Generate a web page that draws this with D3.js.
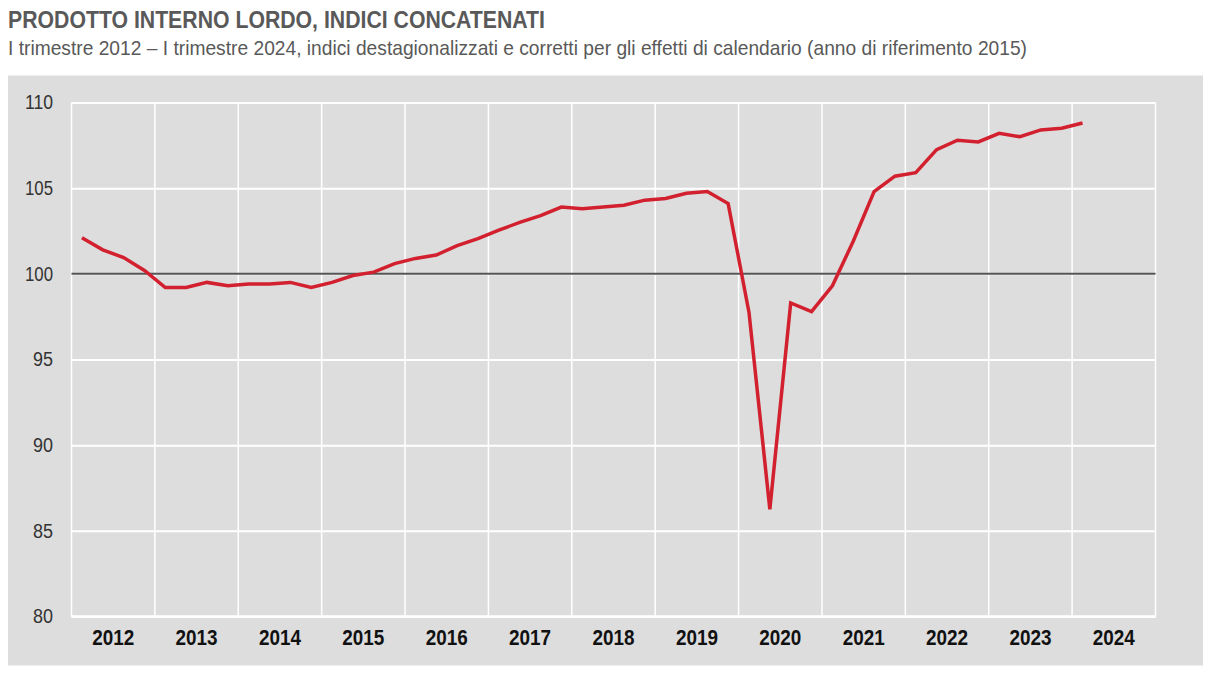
<!DOCTYPE html>
<html><head><meta charset="utf-8">
<script src="https://cdn.jsdelivr.net/npm/d3@7"></script>
<style>
html,body{margin:0;padding:0;background:#fff;}
svg{display:block;}
text{font-family:"Liberation Sans Narrow","Arial Narrow","Liberation Sans",sans-serif;}
</style></head>
<body>
<svg id="chart" width="1210" height="675"></svg>
<script>
const titleText = "PRODOTTO INTERNO LORDO, INDICI CONCATENATI";
const subtitleText = "I trimestre 2012 – I trimestre 2024, indici destagionalizzati e corretti per gli effetti di calendario (anno di riferimento 2015)";
const years = [2012,2013,2014,2015,2016,2017,2018,2019,2020,2021,2022,2023,2024];
const yTicks = [80,85,90,95,100,105,110];
// quarterly values, I 2012 .. I 2024
const quarters = [
  "2012-1","2012-2","2012-3","2012-4",
  "2013-1","2013-2","2013-3","2013-4",
  "2014-1","2014-2","2014-3","2014-4",
  "2015-1","2015-2","2015-3","2015-4",
  "2016-1","2016-2","2016-3","2016-4",
  "2017-1","2017-2","2017-3","2017-4",
  "2018-1","2018-2","2018-3","2018-4",
  "2019-1","2019-2","2019-3","2019-4",
  "2020-1","2020-2","2020-3","2020-4",
  "2021-1","2021-2","2021-3","2021-4",
  "2022-1","2022-2","2022-3","2022-4",
  "2023-1","2023-2","2023-3","2023-4",
  "2024-1"
];
const gdpIndex = [
  102.1,101.4,100.95,100.2,
  99.2,99.2,99.5,99.3,
  99.4,99.4,99.5,99.2,
  99.5,99.9,100.1,100.6,
  100.9,101.1,101.65,102.05,
  102.55,103.0,103.4,103.9,
  103.8,103.9,104.0,104.3,
  104.4,104.7,104.8,104.1,
  97.75,86.25,98.3,97.8,
  99.3,101.9,104.8,105.7,
  105.9,107.25,107.8,107.7,
  108.2,108.0,108.4,108.5,
  108.8
];

const svg = d3.select("#chart");
const panel = {x:8, y:75.5, w:1195, h:590};
const m = {left:71.5, right:1155.5, top:102.5, bottom:616.5};
const FF = "'Liberation Sans Narrow','Arial Narrow','Liberation Sans',sans-serif";

svg.append("text").attr("x",8).attr("y",28)
  .attr("font-size",24).attr("font-weight","bold").attr("fill","#595959")
  .attr("textLength",537).attr("lengthAdjust","spacingAndGlyphs")
  .text(titleText);
svg.append("text").attr("x",8).attr("y",55)
  .attr("font-size",21).attr("fill","#595959")
  .attr("textLength",1019).attr("lengthAdjust","spacingAndGlyphs")
  .text(subtitleText);

svg.append("rect").attr("x",panel.x).attr("y",panel.y).attr("width",panel.w).attr("height",panel.h)
  .attr("fill","#dddddd");

const x = d3.scaleBand().domain(years).range([m.left,m.right]).paddingInner(0).paddingOuter(0);
const y = d3.scaleLinear().domain([80,110]).range([m.bottom,m.top]);

const qx = (q) => {
  const [yr, qq] = q.split("-").map(Number);
  return x(yr) + x.bandwidth()*((qq-0.5)/4);
};

// horizontal gridlines
const gy = svg.append("g")
  .attr("transform",`translate(${m.left},0)`)
  .call(d3.axisLeft(y).tickValues(yTicks).tickSize(-(m.right-m.left)).tickPadding(18.5).tickFormat(d3.format("d")));
gy.select(".domain").remove();
gy.selectAll(".tick line").attr("stroke","#ffffff").attr("stroke-width",2);
gy.selectAll(".tick text").attr("font-size",20).attr("fill","#333")
  .attr("font-family",FF)
  .attr("textLength",d=>d>=100?28:20).attr("lengthAdjust","spacingAndGlyphs");

// vertical gridlines at year boundaries
const bounds = years.map(yr => x(yr)).concat([x(years[years.length-1]) + x.bandwidth()]);
svg.append("g").selectAll("line").data(bounds).join("line")
  .attr("x1",d=>d).attr("x2",d=>d).attr("y1",m.top).attr("y2",m.bottom)
  .attr("stroke","#ffffff").attr("stroke-width",1.5);

// bottom axis line
svg.append("line").attr("x1",m.left).attr("x2",m.right).attr("y1",y(80)).attr("y2",y(80))
  .attr("stroke","#fff").attr("stroke-width",2.5);

// x labels
const gx = svg.append("g").attr("transform",`translate(0,${m.bottom})`)
  .call(d3.axisBottom(x).tickSize(0).tickPadding(13));
gx.select(".domain").remove();
gx.selectAll(".tick text").attr("font-size",22).attr("font-weight","bold").attr("fill","#111")
  .attr("font-family",FF)
  .attr("textLength",42).attr("lengthAdjust","spacingAndGlyphs");

// reference line at 100
svg.append("line").attr("x1",m.left).attr("x2",m.right).attr("y1",y(100)).attr("y2",y(100))
  .attr("stroke","#555555").attr("stroke-width",2);

// series line
const line = d3.line().x((d,i)=>qx(quarters[i])).y(d=>y(d));
svg.append("path").datum(gdpIndex)
  .attr("d",line).attr("fill","none").attr("stroke","#d2202f").attr("stroke-width",3.5)
  .attr("stroke-linejoin","miter");
</script>
</body></html>
